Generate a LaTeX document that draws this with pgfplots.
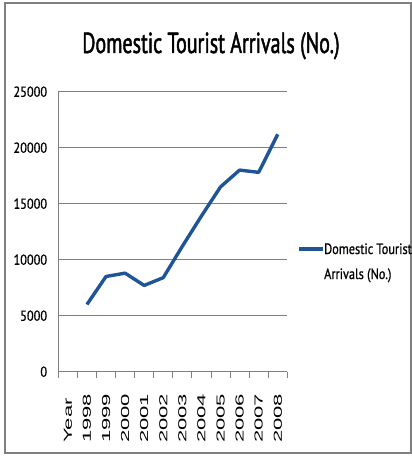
\documentclass[border=0pt]{standalone}
\usepackage{fontspec}
\usepackage{pgfplots}
\pgfplotsset{compat=1.18}
\newfontfamily\cond[FakeStretch=0.85,FakeBold=0.6]{PT Sans}
\newfontfamily\condt[FakeStretch=0.69,FakeBold=1.5]{PT Sans}
\newfontfamily\condl[FakeStretch=0.82,FakeBold=0.8]{PT Sans}
\newfontfamily\xfont[FakeStretch=1.9]{Liberation Sans}
\definecolor{lineblue}{HTML}{1F5596}
\definecolor{gridgray}{HTML}{7F7F7F}
\begin{document}
\begin{tikzpicture}[x=1pt,y=1pt]
\useasboundingbox (0,0) rectangle (412,456);
\draw[gridgray, line width=1.2pt] (5,3) rectangle (411,453);
\node[font=\condt\fontsize{29}{34}\selectfont, anchor=base, inner sep=0pt] at (211,403) {Domestic Tourist Arrivals (No.)};
\begin{axis}[
  scale only axis, width=229pt, height=280pt,
  at={(58.3pt,84.3pt)}, anchor=south west,
  xmin=-0.5, xmax=11.5, ymin=0, ymax=25000,
  axis lines=left, axis line style={-, gridgray, line width=1pt},
  xtick={0,...,11},
  xticklabels={Year,1998,1999,2000,2001,2002,2003,2004,2005,2006,2007,2008},
  minor xtick={-0.5,0.5,...,11.5},
  major tick length=0pt, minor tick length=6pt, tick align=outside,
  tick style={gridgray, line width=0.9pt},
  ytick={0,5000,...,25000},
  ymajorgrids, grid style={gridgray, line width=0.9pt},
  scaled y ticks=false,
  /pgf/number format/1000 sep={},
  /pgf/number format/assume math mode=true,
  yticklabel style={font=\cond\fontsize{14.5}{16}\selectfont, anchor=east, inner sep=0pt, xshift=-11pt},
  xticklabel style={rotate=90, anchor=east, font=\xfont\fontsize{11.6}{13}\selectfont, text width=71pt, align=left, inner sep=0pt},
  legend style={at={(1.051,0.392)}, anchor=west, draw=none, fill=none, inner sep=0pt,
    font=\condl\fontsize{15}{25}\selectfont, cells={align=left},
    nodes={inner sep=1pt}},
  legend image code/.code={\path[draw=none] (0pt,0pt) -- (24pt,0pt); \draw[#1, line width=3.2pt, overlay] (0pt,13pt) -- (24pt,13pt);},
]
\addplot[lineblue, line width=3.4pt, line join=round] coordinates {
 (1,6000) (2,8500) (3,8800) (4,7700) (5,8400) (6,11200)
 (7,13900) (8,16500) (9,18000) (10,17800) (11,21200)
};
\addlegendentry{Domestic Tourist\\Arrivals (No.)}
\end{axis}
\end{tikzpicture}
\end{document}
